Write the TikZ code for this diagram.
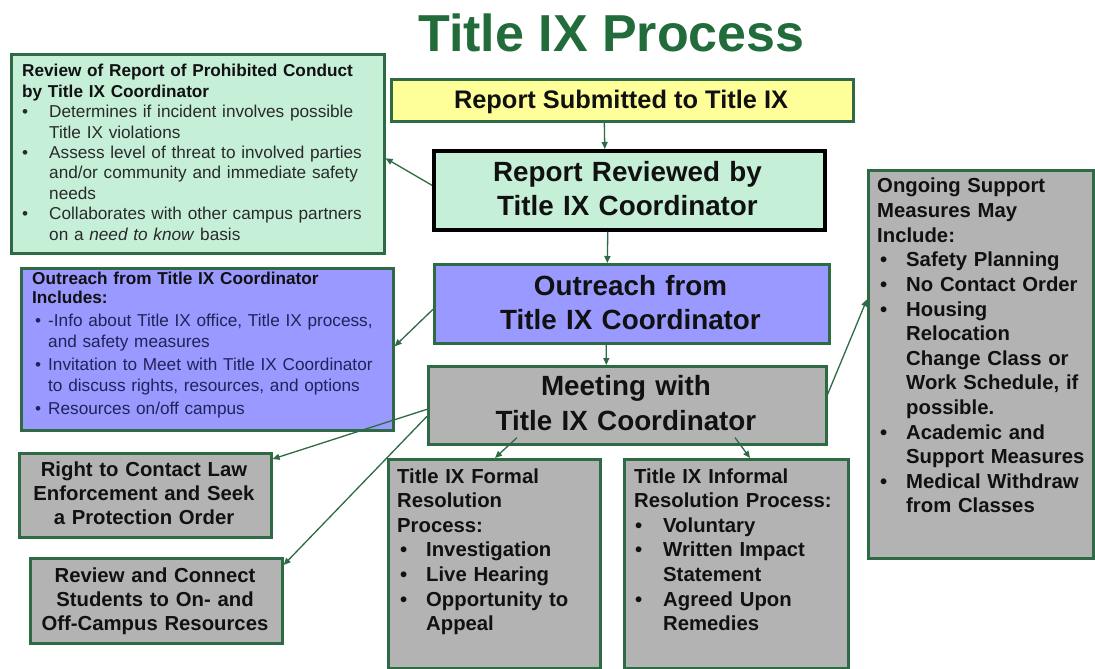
\documentclass[tikz,border=0pt]{standalone}
\usepackage{fontspec}
\setmainfont{Liberation Sans}
\usetikzlibrary{arrows.meta,calc}
\definecolor{bgreen}{HTML}{2E6B45}
\definecolor{tgreen}{HTML}{226B3B}
\definecolor{lgreen}{HTML}{C6EFD8}
\definecolor{lyellow}{HTML}{FFFF99}
\definecolor{lblue}{HTML}{9999FF}
\definecolor{lgray}{HTML}{B3B3B3}
\definecolor{navy}{HTML}{22225A}
\definecolor{dgray}{HTML}{2A2A2A}
\definecolor{ink}{HTML}{111111}
\newcommand\bitem[3]{\par\hangindent=#2\hangafter=1\noindent\hbox to #2{\hspace*{#1}\textbullet\hss}#3\par}
\newcommand\fsSmall{\fontsize{17.2bp}{20.4bp}\selectfont}
\newcommand\fsBold{\fontsize{20.3bp}{24.6bp}\selectfont\bfseries}
\newcommand\fsBig{\fontsize{27.8bp}{34bp}\selectfont\bfseries}
\tikzset{
  box/.style={draw=bgreen, line width=2.6bp, inner sep=0pt, anchor=north west},
  txt/.style={inner sep=0pt, anchor=base west, align=left, text=ink},
  ctxt/.style={inner sep=0pt, anchor=base, align=center, text=ink},
  arr/.style={draw=bgreen, line width=1.3bp, -{Triangle[length=7bp,width=6bp]}}
}
\begin{document}
\begin{tikzpicture}[x=1bp,y=-1bp]
\fill[white] (0,0) rectangle (1095,669);
\useasboundingbox (0,0) rectangle (1095,669);

% title
\node[inner sep=0pt, anchor=base, text=tgreen, font=\fontsize{52bp}{60bp}\selectfont\bfseries] (title) at (611.5,52) {Title IX Process};

% boxes
\node[box, fill=lgreen, minimum width=373bp, minimum height=199bp] (revbox) at (10,53) {};
\node[box, fill=lyellow, minimum width=462bp, minimum height=42bp] (yellow) at (390,78) {};
\node[box, draw=black, line width=3.6bp, fill=lgreen, minimum width=391bp, minimum height=79bp] (reviewed) at (432,149) {};
\node[box, fill=lblue, minimum width=395bp, minimum height=79bp] (outreach) at (433,263) {};
\node[box, fill=lblue, minimum width=372bp, minimum height=162bp] (outleft) at (20,267) {};
\node[box, fill=lgray, minimum width=398bp, minimum height=78bp] (meeting) at (427,365) {};
\node[box, fill=lgray, minimum width=252bp, minimum height=84bp] (contact) at (18,452) {};
\node[box, fill=lgray, minimum width=252bp, minimum height=85bp] (connect) at (29,557) {};
\node[box, fill=lgray, minimum width=212bp, minimum height=209bp] (formal) at (387,458) {};
\node[box, fill=lgray, minimum width=224bp, minimum height=209bp] (informal) at (623,458) {};
\node[box, fill=lgray, minimum width=225bp, minimum height=388bp] (ongoing) at (867,169) {};

% texts
\node[txt, text width=400bp, font=\fsSmall, text=dgray] (revtxt) at (22,77) {{\bfseries\color{ink}Review of Report of Prohibited Conduct\newline by Title IX Coordinator}\par
\bitem{0bp}{27bp}{Determines if incident involves possible\newline Title IX violations}
\bitem{0bp}{27bp}{Assess level of threat to involved parties\newline and/or community and immediate safety\newline needs}
\bitem{0bp}{27bp}{Collaborates with other campus partners\newline on a \textit{need to know} basis}};

\node[ctxt, font=\fontsize{25.4bp}{30bp}\selectfont\bfseries] (yeltxt) at (621,109) {Report Submitted to Title IX};
\node[ctxt, font=\fsBig, text width=420bp] (revwtxt) at (627.5,182) {Report Reviewed by\\Title IX Coordinator};
\node[ctxt, font=\fsBig, text width=420bp] (outrtxt) at (630.5,295) {Outreach from\\Title IX Coordinator};
\node[ctxt, font=\fontsize{27.8bp}{35bp}\selectfont\bfseries, text width=420bp] (meettxt) at (626,395) {Meeting with\\Title IX Coordinator};

\node[txt, text width=420bp, font=\fontsize{17.2bp}{19bp}\selectfont] (outltxt) at (32,284) {{\bfseries Outreach from Title IX Coordinator\newline Includes:}\par
\color{navy}\fontsize{17.2bp}{20.5bp}\selectfont
\vspace{3bp}\bitem{3bp}{16bp}{-Info about Title IX office, Title IX process,\newline and safety measures}
\vspace{3bp}\bitem{3bp}{16bp}{Invitation to Meet with Title IX Coordinator\newline to discuss rights, resources, and options}
\vspace{3bp}\bitem{3bp}{16bp}{Resources on/off campus}};

\node[ctxt, font=\fontsize{20.3bp}{24.2bp}\selectfont\bfseries, text width=300bp] (contxt) at (144,476) {Right to Contact Law\\Enforcement and Seek\\a Protection Order};
\node[ctxt, font=\fontsize{20.3bp}{24.2bp}\selectfont\bfseries, text width=300bp] (conntxt) at (155,582) {Review and Connect\\Students to On- and\\Off-Campus Resources};

\node[txt, text width=300bp, font=\fsBold] (formtxt) at (397,483) {Title IX Formal\newline Resolution\newline Process:\par
\bitem{3bp}{29bp}{Investigation}
\bitem{3bp}{29bp}{Live Hearing}
\bitem{3bp}{29bp}{Opportunity to\newline Appeal}};

\node[txt, text width=300bp, font=\fsBold] (inftxt) at (634,483) {Title IX Informal\newline Resolution Process:\par
\bitem{1bp}{29bp}{Voluntary}
\bitem{1bp}{29bp}{Written Impact\newline Statement}
\bitem{1bp}{29bp}{Agreed Upon\newline Remedies}};

\node[txt, text width=300bp, font=\fsBold] (ongtxt) at (877,193) {Ongoing Support\newline Measures May\newline Include:\par
\bitem{3bp}{29bp}{Safety Planning}
\bitem{3bp}{29bp}{No Contact Order}
\bitem{3bp}{29bp}{Housing\newline Relocation\newline Change Class or\newline Work Schedule, if\newline possible.}
\bitem{3bp}{29bp}{Academic and\newline Support Measures}
\bitem{3bp}{29bp}{Medical Withdraw\newline from Classes}};

% connectors
\draw[arr] ([xshift=-18bp]yellow.south) -- ([xshift=-24.5bp]reviewed.north);
\draw[arr] ([yshift=5bp]reviewed.west) -- ([yshift=-4.5bp]revbox.east);
\draw[arr] ([xshift=-21.5bp]reviewed.south) -- ([xshift=-24.5bp]outreach.north);
\draw[arr] ([yshift=-5.5bp]outreach.west) -- ([yshift=3bp]outleft.east);
\draw[arr] ([xshift=-25.5bp]outreach.south) -- ([xshift=-21bp]meeting.north);
\draw[arr] ([yshift=11bp]meeting.east) -- ([yshift=65bp]ongoing.west);
\draw[arr] ([yshift=-4bp]meeting.west) -- ([yshift=-7bp]contact.north east);
\draw[arr] ([yshift=-11bp]meeting.west) -- ([yshift=-8bp]connect.north east);
\draw[arr] ([xshift=90bp,yshift=8bp]meeting.south west) -- ([xshift=108bp]formal.north west);
\draw[arr] ([xshift=308bp,yshift=8bp]meeting.south west) -- ([xshift=127bp]informal.north west);
\end{tikzpicture}
\end{document}
